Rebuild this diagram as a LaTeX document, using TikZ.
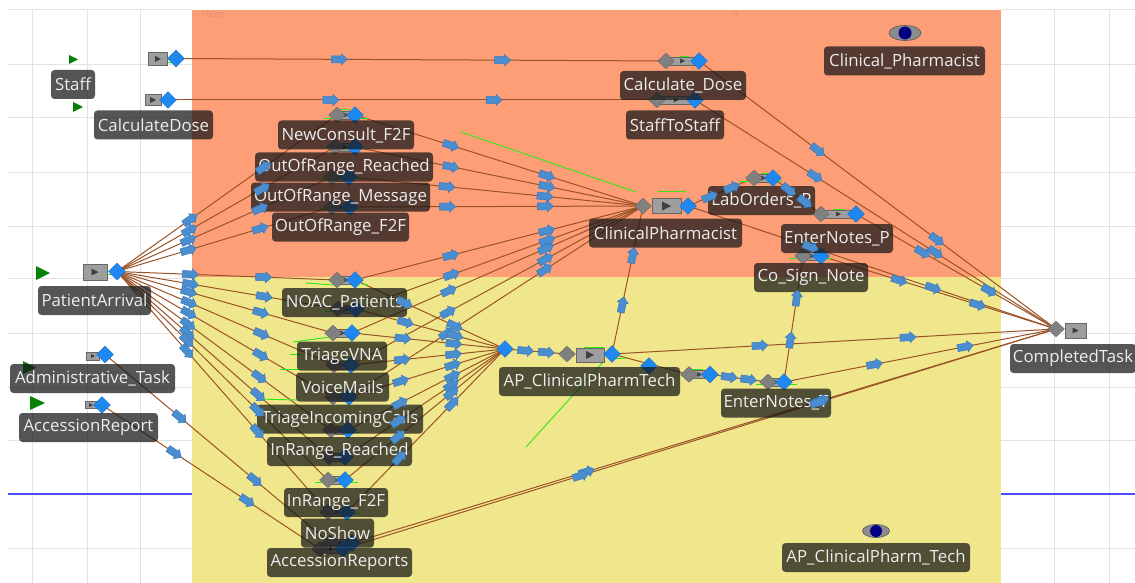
\documentclass[tikz,border=0pt]{standalone}
\usepackage{fontspec}
\setmainfont{Open Sans}
\usetikzlibrary{shapes.geometric,decorations.markings}
\pgfdeclarelayer{zones}
\pgfdeclarelayer{lines}
\pgfdeclarelayer{labs}
\pgfdeclarelayer{flows}
\pgfsetlayers{zones,lines,main,labs,flows}
\definecolor{orangezone}{HTML}{FE9E77}
\definecolor{yellowzone}{HTML}{F0E68C}
\definecolor{gridgray}{HTML}{E2E2E2}
\definecolor{linkbrown}{HTML}{9A5326}
\definecolor{flowblue}{HTML}{4B8ECF}
\definecolor{flowedge}{HTML}{3A79BE}
\definecolor{diamblue}{HTML}{1E88F0}
\definecolor{diamgray}{HTML}{808080}
\definecolor{greentrace}{HTML}{2CEB12}
\definecolor{tri}{HTML}{078007}
\definecolor{labdark}{HTML}{161616}
\tikzset{
  gdia/.style={shape=diamond,fill=diamgray,draw=diamgray!80!black,line width=.3pt,minimum width=17pt,minimum height=16pt,inner sep=0pt},
  bdia/.style={shape=diamond,fill=diamblue,draw=diamblue!80!black,line width=.3pt,minimum width=17pt,minimum height=17pt,inner sep=0pt},
  lab/.style={fill=labdark,fill opacity=.73,text opacity=1,text=white!93!black,rounded corners=3.5pt,minimum height=29pt,inner sep=0pt,font=\fontsize{16.8}{20}\selectfont},
  boxst/.style={fill=black!38,draw=black!60,line width=.5pt},
  playst/.style={fill=black!75},
  linkst/.style={draw=linkbrown,line width=1pt},
  trace/.style={draw=greentrace,line width=.9pt},
  flowmarks/.style={postaction={decorate,decoration={markings,
    mark=at position .3333 with {\flowglyph},
    mark=at position .6667 with {\flowglyph}}}},
  faint/.style={text=orangezone!88!black,font=\fontsize{9}{10}\selectfont,inner sep=0pt},
}
\newcommand{\flowglyph}{\filldraw[fill=flowblue,draw=flowedge,line width=.5pt]
  (-8pt,-3.5pt)--(2pt,-3.5pt)--(2pt,-5.5pt)--(8pt,0pt)--(2pt,5.5pt)--(2pt,3.5pt)--(-8pt,3.5pt)--cycle;}
% connector with its two flow marks
\newcommand{\flowlink}[2]{%
  \begin{pgfonlayer}{lines}\draw[linkst] (#1.center) -- (#2.center);\end{pgfonlayer}%
  \begin{pgfonlayer}{flows}\path[flowmarks] (#1.center) -- (#2.center);\end{pgfonlayer}}
\newcommand{\plainlink}[2]{%
  \begin{pgfonlayer}{lines}\draw[linkst] (#1.center) -- (#2.center);\end{pgfonlayer}}
\newcommand{\iconbox}[5]{%
  \pgfmathsetmacro{\icx}{#1}\pgfmathsetmacro{\icw}{(#3)/2}\pgfmathsetmacro{\ich}{(#4)/2}%
  \draw[boxst] ({\icx-\icw},{#2-\ich}) rectangle ({\icx+\icw},{#2+\ich});
  \fill[playst] ({\icx-#5},{#2-#5}) -- ({\icx+#5},#2) -- ({\icx-#5},{#2+#5}) -- cycle;}
% block: id, grey x, blue x, y
\newcommand{\blocknode}[4]{%
  \iconbox{(#2+#3)/2}{#4}{#3-#2-8}{8}{2.5}
  \node[gdia] (#1-in) at (#2,#4) {};
  \node[bdia] (#1-out) at (#3,#4) {};}
\newcommand{\labelnode}[5]{%
  \begin{pgfonlayer}{labs}\node[lab,minimum width=#4 pt] (#1) at (#2,#3) {#5};\end{pgfonlayer}}
\begin{document}
\begin{tikzpicture}[x=1pt,y=-1pt]
\useasboundingbox (0,0) rectangle (1135,583);
\begin{pgfonlayer}{zones}
  \fill[white] (0,0) rectangle (1135,583);
  \foreach \xx in {32,87,140,1054,1109} \draw[gridgray,line width=1pt] (\xx,10) -- (\xx,583);
  \foreach \yy in {10,65,118,172,226,278,333,387,440,548} {
    \draw[gridgray,line width=1pt] (8,\yy) -- (192,\yy);
    \draw[gridgray,line width=1pt] (1001,\yy) -- (1135,\yy);}
  \draw[blue!70!white,line width=1.1pt] (8,494) -- (192,494) (1001,494) -- (1135,494);
  \fill[orangezone] (192,10) rectangle (1001,277);
  \fill[yellowzone] (192,277) rectangle (1001,583);
  \node[faint] (axisA) at (211,14) {-100m};
  \node[faint] (axisB) at (736,14) {0};
\end{pgfonlayer}
% green traces
\foreach \ax/\ay/\bx/\by in {
  461/132/636/192, 658/191/682/191, 682/191/686/192, 679/56/689/56,
  739/181/782/181, 761/173/768/173, 833/209/844/209, 790/258/833/258,
  324/118/368/118, 340/109/350/109, 306/283/333/285, 362/284/368/285,
  293/342/330/337, 290/354/302/354, 280/369/300/369, 257/399/297/400,
  315/482/358/482, 605/360/526/447, 584/347/604/347, 612/359/626/358,
  756/384/797/384, 693/369/703/369, 167/62/172/63, 108/274/113/274,
  325/148/365/148, 320/178/360/178, 320/208/360/208,
  325/311/365/311, 325/432/360/432, 320/513/360/513}
  \draw[trace] (\ax,\ay) -- (\bx,\by);
% sources
\iconbox{158}{59}{19}{13}{3}  \node[bdia] (srcStaff) at (176,58.5) {};
\iconbox{153}{100}{16}{11}{3} \node[bdia] (srcCalc) at (168,100) {};
\iconbox{95}{272}{24}{16}{3.5} \node[bdia] (srcPatient) at (117,271.5) {};
\iconbox{93}{356}{13}{8}{2}   \node[bdia] (srcAdmin) at (105,354.5) {};
\iconbox{91}{405}{12}{7}{2}   \node[bdia] (srcAccess) at (102,405) {};
% green start triangles
\fill[tri] (69,55) -- (78,59.5) -- (69,64) -- cycle;
\fill[tri] (73,102) -- (83,107) -- (73,112) -- cycle;
\fill[tri] (36,266) -- (50,273) -- (36,280) -- cycle;
\fill[tri] (23,361) -- (36,367.5) -- (23,374) -- cycle;
\fill[tri] (30,396) -- (45,403) -- (30,410) -- cycle;
% blocks
\blocknode{dose}{666}{699}{61}
\blocknode{sts}{657}{695}{100}
\blocknode{cons}{337}{355}{115}
\blocknode{reach}{335}{355}{147}
\blocknode{msg}{332}{349}{177}
\blocknode{oof}{332}{350}{207}
\blocknode{noac}{337}{355}{280}
\blocknode{mid}{338}{356}{309}
\blocknode{vna}{333}{352}{333}
\blocknode{vm}{334}{351}{365}
\blocknode{tic}{333}{349}{397}
\blocknode{irr}{331}{348}{430}
\blocknode{hid}{329}{345}{457}
\blocknode{irf}{328}{345}{480}
\blocknode{nos}{328}{347}{512}
\blocknode{acA}{330}{352}{543}
\blocknode{acB}{320}{343}{549}
\blocknode{lab}{754}{773}{178}
\blocknode{enp}{821}{856}{214}
\blocknode{cosign}{803}{821}{256}
\blocknode{ent}{689}{710}{374.5}
\blocknode{entb}{768}{784}{382}
% big blocks
\iconbox{666.5}{206}{29}{15}{4.5}
\node[gdia] (cp-in) at (643,206) {};
\node[bdia] (cp-out) at (688,206) {};
\iconbox{590}{355}{28}{14}{4}
\node[gdia] (apt-in) at (567,354) {};
\node[bdia] (apt-out) at (612,354) {};
\node[bdia] (merge) at (505,349) {};
\node[bdia] (relay) at (649,366) {};
\iconbox{1075.5}{330.5}{21}{15}{3}
\node[gdia] (done) at (1056,329) {};
% eyes
\filldraw[fill=black!45,draw=black!65,line width=.6pt] (905,33) ellipse (16pt and 7.5pt);
\fill[blue!50!black] (905,33) circle (6.5pt);
\filldraw[fill=black!45,draw=black!65,line width=.6pt] (876,531) ellipse (13.5pt and 6.5pt);
\fill[blue!50!black] (876,531) circle (6pt);
% labels
\labelnode{lStaff}{73}{84.5}{44}{Staff}
\labelnode{lCalc}{153.5}{125}{119}{CalculateDose}
\labelnode{lPatient}{94.5}{300.5}{113}{PatientArrival}
\labelnode{lAdmin}{92.5}{378.5}{165}{Administrative\_Task}
\labelnode{lAccess}{88.5}{427.5}{139}{AccessionReport}
\labelnode{lCons}{346}{135}{136}{NewConsult\_F2F}
\labelnode{lReach}{344}{167}{178}{OutOfRange\_Reached}
\labelnode{lMsg}{340.5}{197}{179}{OutOfRange\_Message}
\labelnode{lOof}{340.5}{227}{137}{OutOfRange\_F2F}
\labelnode{lNoac}{344.5}{302.5}{125}{NOAC\_Patients}
\labelnode{lVna}{342}{356}{90}{TriageVNA}
\labelnode{lVm}{342.5}{387}{93}{VoiceMails}
\labelnode{lTic}{340}{419}{166}{TriageIncomingCalls}
\labelnode{lIrr}{339.5}{451.5}{145}{InRange\_Reached}
\labelnode{lIrf}{336}{502.5}{104}{InRange\_F2F}
\labelnode{lNos}{337.5}{533}{73}{NoShow}
\labelnode{lAcr}{339.5}{562.5}{145}{AccessionReports}
\labelnode{lDose}{683}{85.5}{126}{Calculate\_Dose}
\labelnode{lSts}{675}{125}{98}{StaffToStaff}
\labelnode{lCp}{665.5}{233}{153}{ClinicalPharmacist}
\labelnode{lLab}{761.5}{200.5}{107}{LabOrders\_P}
\labelnode{lEnp}{837}{238.5}{112}{EnterNotes\_P}
\labelnode{lCos}{811}{277.5}{114}{Co\_Sign\_Note}
\labelnode{lClin}{904.5}{61}{161}{Clinical\_Pharmacist}
\labelnode{lApt}{589.5}{381.5}{181}{AP\_ClinicalPharmTech}
\labelnode{lEnt}{776}{403}{110}{EnterNotes\_T}
\labelnode{lAptz}{876}{557.5}{188}{AP\_ClinicalPharm\_Tech}
\labelnode{lDone}{1073}{358.5}{126}{CompletedTask}
% connectors
\flowlink{srcStaff}{dose-in}
\flowlink{srcCalc}{sts-in}
\foreach \t in {cons,reach,msg,oof,noac,mid,vna,vm,tic,irr,hid,irf,nos} {
  \flowlink{srcPatient}{\t-in}
}
\flowlink{srcAdmin}{acA-in}
\flowlink{srcAccess}{acB-in}
\foreach \t in {cons,reach,msg,oof,noac,mid,vna,vm,tic} {
  \flowlink{\t-out}{cp-in}
}
\foreach \t in {noac,mid,vna,vm,tic,irr,hid,irf,nos} {
  \flowlink{\t-out}{merge}
}
\flowlink{merge}{apt-in}
\flowlink{apt-out}{cp-in}
\flowlink{apt-out}{done}
\plainlink{apt-out}{ent-in}
\flowlink{ent-out}{entb-in}
\flowlink{entb-out}{cosign-in}
\flowlink{entb-out}{done}
\flowlink{cp-out}{lab-in}
\flowlink{lab-out}{enp-in}
\flowlink{enp-out}{done}
\flowlink{cp-out}{done}
\flowlink{cosign-out}{done}
\flowlink{dose-out}{done}
\flowlink{sts-out}{done}
\flowlink{acA-out}{done}
\flowlink{acB-out}{done}
\end{tikzpicture}
\end{document}
